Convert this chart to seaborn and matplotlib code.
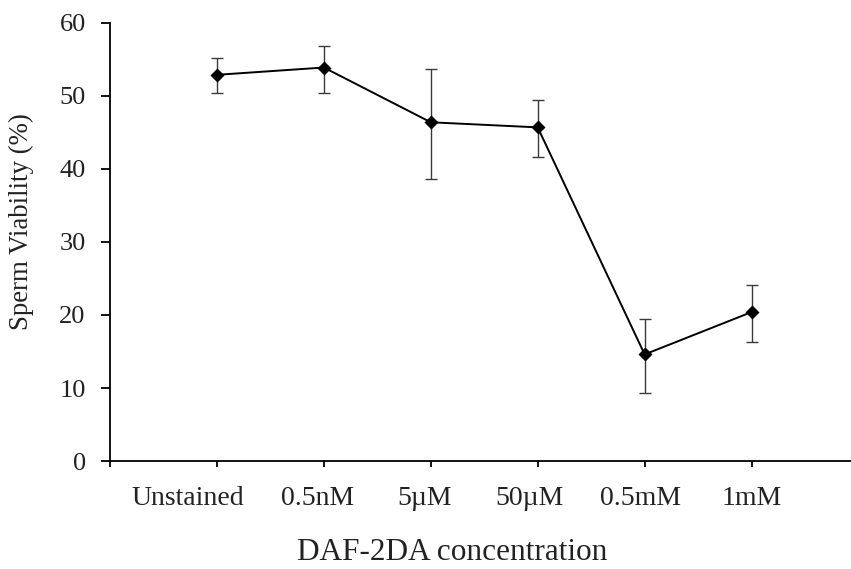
import matplotlib
matplotlib.use("Agg")
import matplotlib.pyplot as plt
import matplotlib.transforms as mtransforms
import seaborn as sns
import numpy as np
import pandas as pd

categories = ["Unstained", "0.5nM", "5\u00b5M", "50\u00b5M", "0.5mM", "1mM"]
viability = [52.9, 53.9, 46.4, 45.7, 14.6, 20.4]
err_upper = [55.2, 56.9, 53.7, 49.5, 19.5, 24.1]
err_lower = [50.4, 50.4, 38.6, 41.6, 9.3, 16.3]
y_ticks = [0, 10, 20, 30, 40, 50, 60]

sns.set_style("white")
plt.rcParams['font.family'] = ['Liberation Serif', 'DejaVu Serif']

fig = plt.figure(figsize=(8.51, 5.69), dpi=100)
ax = fig.add_axes([0.1293, 0.1898, 0.8707, 0.7698])

df = pd.DataFrame({"conc": categories, "via": viability})
pos = np.arange(len(categories))
yerr = [np.array(viability) - np.array(err_lower), np.array(err_upper) - np.array(viability)]
ax.errorbar(pos, viability, yerr=yerr, fmt='none', ecolor='#3a3a3a', elinewidth=1.0,
            capsize=4.5, capthick=1.0, zorder=2)
sns.pointplot(data=df, x="conc", y="via", errorbar=None, color='black', markers='D',
              markersize=6, linewidth=1.4, ax=ax, zorder=3)

ax.set_xlim(-1, 5.93)
ax.set_ylim(0, 60)
ax.set_yticks(y_ticks)
ax.set_xticks(np.arange(-1, len(categories)))
ax.set_xticklabels([""] + categories)
for s in ["top", "right"]:
    ax.spines[s].set_visible(False)
for s in ["left", "bottom"]:
    ax.spines[s].set_linewidth(1.3)
    ax.spines[s].set_color('black')
ax.tick_params(axis='y', left=True, direction='out', length=6.5, width=1.3, colors='black',
               labelsize=19, pad=11)
ax.tick_params(axis='x', bottom=True, direction='out', length=4, width=1.3, colors='black',
               labelsize=20, pad=14)
for lab in ax.get_xticklabels() + ax.get_yticklabels():
    lab.set_color('#222222')

# small horizontal label shifts seen in the reference (pixels)
label_shift_px = [0, -29, -6, -6, -8, -4, 0]
for lab, dx in zip(ax.get_xticklabels(), label_shift_px):
    lab.set_transform(lab.get_transform() +
                      mtransforms.ScaledTranslation(dx / 100.0, 0, fig.dpi_scale_trans))

ax.set_xlabel("DAF-2DA concentration", fontsize=22.5, color='#222222')
ax.set_ylabel("Sperm Viability (%)", fontsize=19.4, color='#222222')
ax.xaxis.set_label_coords(0.4615, -0.175)
ax.yaxis.set_label_coords(-0.103, 0.547)
ax.grid(False)

fig.savefig("out.png", dpi=100)
